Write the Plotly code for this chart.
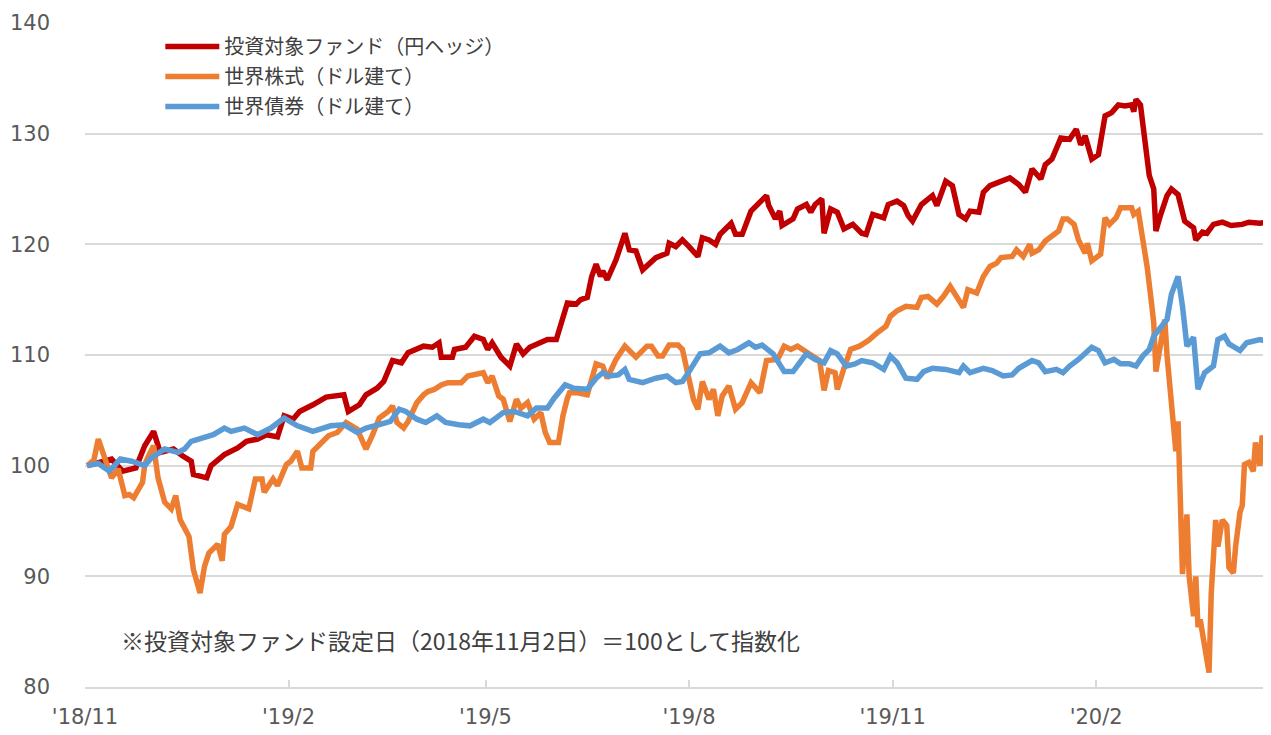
import pandas as pd
import plotly.graph_objects as go

# -- Dados (dias desde o lançamento do fundo, 2018-11-02 = 100)
launch = pd.Timestamp("2018-11-02")

red_days = [0, 5, 11, 16, 22, 26, 30, 33, 39, 43, 47, 48, 54, 56, 62, 68, 72, 77, 81, 86,
            89, 93, 96, 102, 108, 116, 118, 123, 126, 131, 134, 138, 142, 145, 149, 152, 156, 159, 160, 165,
            166, 171, 175, 179, 181, 183, 187, 191, 194, 197, 200, 205, 208, 212, 215, 217, 221, 223, 226, 228,
            230, 232, 233, 235, 239, 243, 245, 248, 251, 254, 257, 262, 263, 266, 269, 272, 276, 278, 281, 284,
            286, 289, 291, 293, 296, 300, 304, 307, 308, 311, 313, 314, 319, 321, 325, 327, 329, 332, 333, 336,
            339, 342, 346, 350, 352, 355, 360, 362, 366, 369, 371, 373, 377, 380, 382, 384, 386, 388, 391, 394,
            397, 399, 403, 405, 408, 412, 417, 421, 424, 427, 429, 431, 433, 436, 440, 444, 447, 449, 451, 454,
            457, 460, 463, 466, 469, 472, 473, 474, 476, 478, 480, 482, 483, 485, 488, 490, 493, 496, 500, 501,
            504, 506, 509, 513, 517, 522, 525, 530, 535]
red_values = [100.0, 100.3, 100.6, 99.5, 99.8, 101.8, 103.1, 101.2, 101.5, 100.9, 100.4, 99.2, 98.9, 100.0, 101.0, 101.6, 102.2, 102.4, 102.8, 102.6,
              104.5, 104.2, 104.9, 105.5, 106.2, 106.4, 104.9, 105.5, 106.4, 107.0, 107.6, 109.5, 109.3, 110.2, 110.5, 110.8, 110.7, 111.1, 109.8, 109.8,
              110.5, 110.7, 111.7, 111.4, 110.5, 111.1, 109.8, 109.0, 111.0, 110.1, 110.7, 111.1, 111.4, 111.4, 113.3, 114.7, 114.6, 115.0, 115.2, 117.1,
              118.2, 117.1, 117.6, 116.8, 118.6, 121.0, 119.5, 119.4, 117.7, 118.3, 118.8, 119.2, 120.1, 119.8, 120.4, 119.8, 118.9, 120.6, 120.4, 120.0,
              120.9, 121.5, 121.9, 120.9, 120.9, 123.0, 123.8, 124.4, 123.5, 122.3, 123.0, 121.7, 122.3, 123.2, 123.6, 122.9, 123.6, 124.1, 121.0, 123.2,
              122.9, 121.4, 121.8, 121.0, 120.9, 122.7, 122.4, 123.6, 123.9, 123.5, 122.6, 122.1, 123.6, 124.1, 124.4, 123.5, 124.7, 125.7, 125.3, 122.7,
              122.3, 123.0, 122.9, 124.7, 125.3, 125.6, 126.0, 125.4, 124.7, 126.8, 126.3, 125.9, 127.2, 127.7, 129.6, 129.5, 130.4, 129.0, 129.8, 127.7,
              128.1, 131.6, 131.9, 132.6, 132.5, 132.6, 132.0, 133.1, 132.6, 129.5, 126.2, 125.0, 121.2, 122.6, 124.4, 125.0, 124.5, 122.1, 121.5, 120.4,
              121.1, 121.0, 121.8, 122.0, 121.7, 121.8, 122.0, 121.9, 122.1]

orange_days = [0, 3, 5, 6, 9, 11, 14, 17, 19, 21, 25, 26, 28, 30, 32, 35, 38, 40, 42, 46,
               48, 51, 53, 55, 59, 61, 62, 65, 68, 71, 73, 76, 79, 80, 84, 86, 90, 92, 95, 97,
               101, 102, 105, 109, 113, 117, 122, 126, 129, 132, 136, 138, 140, 143, 145, 149, 152, 154, 157, 160,
               163, 169, 172, 175, 179, 181, 183, 186, 188, 191, 194, 196, 199, 202, 205, 207, 209, 213, 215, 217,
               218, 221, 226, 228, 230, 233, 235, 239, 243, 248, 253, 255, 258, 260, 263, 267, 269, 272, 274, 276,
               278, 281, 283, 285, 287, 290, 293, 296, 300, 304, 307, 312, 315, 318, 321, 324, 328, 331, 333, 335,
               338, 339, 342, 345, 349, 353, 357, 361, 363, 366, 370, 375, 377, 380, 384, 387, 390, 393, 396, 398,
               402, 405, 408, 411, 413, 418, 420, 423, 426, 427, 430, 433, 436, 439, 441, 443, 446, 448, 451, 452,
               454, 458, 460, 462, 465, 467, 472, 473, 475, 477, 479, 481, 482, 483, 485, 487, 488, 491, 492, 493,
               495, 497, 498, 500, 501, 502, 503, 505, 507, 508, 509, 510, 511, 513, 515, 516, 518, 519, 521, 522,
               523, 525, 527, 528, 530, 531, 533, 535]
orange_values = [100.0, 100.5, 102.4, 101.8, 100.0, 98.9, 99.7, 97.3, 97.4, 97.1, 98.5, 100.1, 101.0, 101.8, 98.9, 96.7, 96.1, 97.3, 95.1, 93.6,
                 90.6, 88.5, 90.9, 92.1, 92.9, 91.4, 93.8, 94.5, 96.5, 96.2, 96.1, 98.8, 98.8, 97.6, 98.8, 98.2, 100.1, 100.4, 101.3, 99.8,
                 99.8, 101.3, 101.9, 102.7, 103.0, 103.9, 103.3, 101.5, 102.8, 104.3, 104.9, 105.4, 103.9, 103.4, 104.0, 105.7, 106.4, 106.7, 106.9, 107.3,
                 107.5, 107.5, 108.1, 108.2, 108.4, 107.5, 108.1, 106.3, 106.0, 104.0, 106.0, 105.2, 105.7, 104.2, 104.8, 103.0, 102.1, 102.1, 104.5, 106.1,
                 106.6, 106.6, 106.4, 107.8, 109.2, 109.0, 107.9, 109.6, 110.8, 109.8, 110.8, 110.8, 109.9, 109.9, 110.9, 110.9, 110.5, 107.8, 106.0, 105.1,
                 107.6, 106.0, 106.9, 104.5, 106.3, 107.2, 105.1, 105.7, 107.5, 106.6, 109.5, 109.6, 110.8, 110.5, 110.8, 110.4, 109.9, 109.5, 106.8, 108.6,
                 108.4, 106.9, 108.8, 110.5, 110.8, 111.3, 112.0, 112.6, 113.5, 114.0, 114.4, 114.3, 115.2, 115.3, 114.6, 115.3, 116.2, 115.3, 114.3, 115.9,
                 115.6, 117.1, 118.0, 118.3, 118.8, 118.9, 119.5, 118.9, 120.0, 119.2, 119.5, 120.3, 120.7, 121.2, 122.3, 122.3, 121.8, 120.4, 119.2, 120.1,
                 118.5, 119.1, 122.4, 121.8, 122.4, 123.3, 123.3, 122.7, 123.0, 120.7, 118.0, 114.7, 112.9, 108.5, 111.1, 113.2, 110.0, 104.2, 101.3, 104.0,
                 90.2, 95.6, 90.0, 86.4, 90.0, 85.4, 86.1, 83.7, 81.3, 88.5, 91.5, 95.1, 92.7, 95.1, 94.6, 90.8, 90.3, 92.7, 95.8, 96.4,
                 100.1, 100.3, 99.5, 102.1, 100.0, 102.7, 101.8, 98.5]

blue_days = [0, 5, 10, 15, 20, 26, 29, 35, 41, 44, 47, 53, 57, 62, 65, 71, 77, 83, 89, 95,
             102, 110, 116, 122, 126, 132, 137, 141, 144, 149, 153, 158, 162, 168, 173, 179, 182, 188, 193, 199,
             203, 208, 211, 216, 220, 226, 230, 233, 236, 240, 243, 245, 251, 257, 262, 266, 269, 272, 277, 281,
             286, 290, 294, 299, 302, 305, 310, 315, 319, 322, 325, 329, 333, 336, 339, 343, 347, 350, 355, 360,
             363, 366, 370, 375, 378, 382, 388, 394, 396, 399, 405, 409, 414, 418, 421, 427, 430, 433, 438, 441,
             444, 448, 454, 457, 460, 464, 467, 471, 474, 477, 480, 482, 485, 488, 490, 493, 495, 497, 500, 502,
             505, 509, 511, 514, 516, 521, 524, 530, 535]
blue_values = [100.0, 100.2, 99.5, 100.6, 100.4, 100.0, 100.7, 101.5, 101.2, 101.5, 102.2, 102.5, 102.8, 103.4, 103.1, 103.4, 102.8, 103.4, 104.3, 103.6,
               103.1, 103.6, 103.7, 103.0, 103.4, 103.7, 104.0, 105.1, 104.9, 104.2, 103.9, 104.5, 103.9, 103.7, 103.6, 104.2, 103.9, 104.8, 104.9, 104.5,
               105.2, 105.2, 106.1, 107.3, 107.0, 106.9, 107.9, 108.4, 108.1, 108.2, 108.7, 107.8, 107.5, 107.9, 108.1, 107.5, 107.6, 108.5, 110.1, 110.2,
               110.8, 110.2, 110.5, 111.1, 110.7, 110.9, 110.1, 108.5, 108.5, 109.3, 110.1, 109.6, 109.3, 110.4, 110.1, 109.0, 109.2, 109.5, 109.3, 108.7,
               109.9, 109.3, 107.9, 107.8, 108.5, 108.8, 108.7, 108.4, 109.0, 108.4, 108.8, 108.6, 108.1, 108.2, 108.8, 109.5, 109.3, 108.5, 108.7, 108.4,
               109.0, 109.6, 110.7, 110.4, 109.3, 109.6, 109.2, 109.2, 109.0, 109.9, 110.5, 111.7, 112.5, 113.2, 115.5, 117.1, 114.4, 110.8, 111.6, 106.9,
               108.4, 109.0, 111.4, 111.7, 111.0, 110.4, 111.1, 111.4, 111.1]

series_names = ["投資対象ファンド（円ヘッジ）", "世界株式（ドル建て）", "世界債券（ドル建て）"]
series_colors = ["#C00000", "#ED7D31", "#5B9BD5"]

note_text = "※投資対象ファンド設定日（2018年11月2日）＝100として指数化"


def to_dates(days):
    return launch + pd.to_timedelta(days, unit="D")


def grafico_linhas():
    fig = go.Figure()
    series = [(red_days, red_values), (orange_days, orange_values), (blue_days, blue_values)]
    for (days, values), name, color in zip(series, series_names, series_colors):
        fig.add_trace(go.Scatter(
            x=to_dates(days), y=values, name=name, legendgroup=name,
            mode="lines", line=dict(color=color, width=5.5)))

    # -- Layout (a página tem 8px de margem no body)
    fig.update_layout(
        width=1263, height=727,
        margin=dict(l=77, r=0, t=15, b=48),
        paper_bgcolor="white", plot_bgcolor="white",
        font=dict(family="DejaVu Sans", size=21, color="#595959"),
        showlegend=True,
        legend=dict(x=0.0635, y=0.994, xanchor="left", yanchor="top",
                    bgcolor="rgba(0,0,0,0)", tracegroupgap=1, itemwidth=54,
                    font=dict(family="Noto Sans CJK JP", size=20, color="#404040")),
    )

    fig.update_xaxes(
        range=["2018-11-01", "2020-04-20"],
        tick0="2018-11-01", dtick="M3", tickformat="'%y/%-m",
        showgrid=False, showline=True, linecolor="#D9D9D9", linewidth=2,
        ticks="inside", ticklen=7, tickwidth=2, tickcolor="#D9D9D9",
        ticklabelstandoff=10)

    fig.update_yaxes(
        range=[80, 140], dtick=10, showline=False, zeroline=False,
        gridcolor="#D9D9D9", gridwidth=1.5, ticklabelstandoff=34)

    fig.add_annotation(
        text=note_text, xref="paper", yref="paper", x=0.029, y=0.071,
        xanchor="left", yanchor="middle", showarrow=False,
        font=dict(family="Noto Sans CJK JP", size=23, color="#404040"))

    return fig


if __name__ == '__main__':
    fig = grafico_linhas()
    fig.write_html("out.html")
